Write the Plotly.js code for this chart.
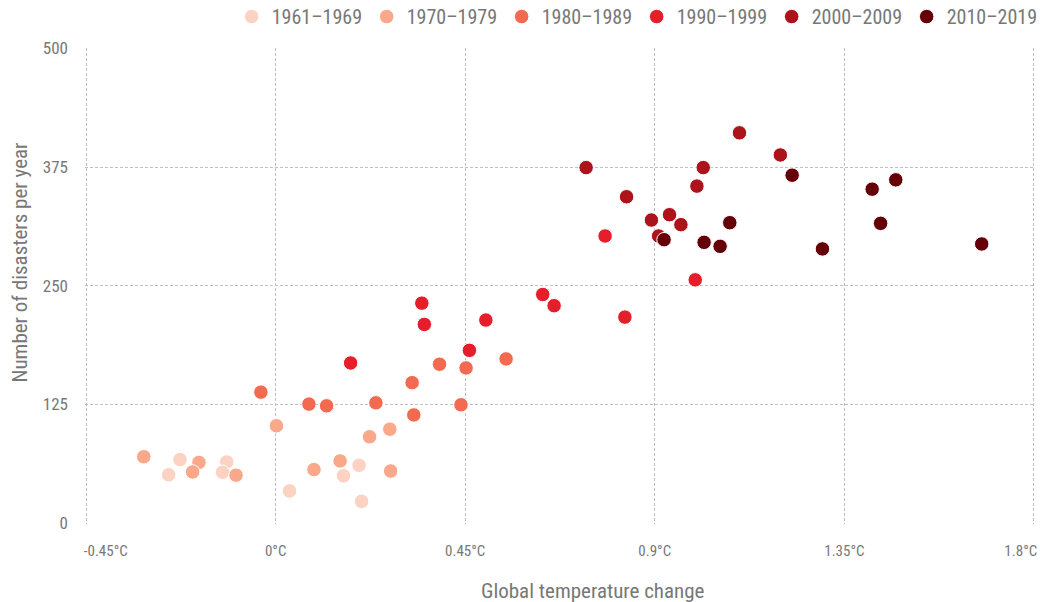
<!DOCTYPE html>
<html>
<head>
<meta charset="utf-8">
<script src="https://cdn.plot.ly/plotly-3.0.1.min.js"></script>
<style>html,body{margin:0;padding:0;background:#fff;}#chart{width:1040px;height:602px;}</style>
</head>
<body>
<div id="chart"></div>
<script>
var decades = ["1961–1969", "1970–1979", "1980–1989", "1990–1999", "2000–2009", "2010–2019"];
var colors = ["#fcd2c2", "#f9a88a", "#f26b50", "#e41e2a", "#ad131a", "#660008"];

var temp1960s = [-0.227, -0.254, -0.116, -0.126, 0.033, 0.198, 0.161, 0.204];
var disasters1960s = [67, 51, 64.5, 53.7, 34, 61, 50, 23];

var temp1970s = [-0.313, -0.182, -0.197, -0.094, 0.002, 0.091, 0.153, 0.223, 0.271, 0.273];
var disasters1970s = [70, 64, 54, 50.6, 102.6, 56.5, 65.6, 91, 99, 55];

var temp1980s = [-0.035, 0.079, 0.121, 0.238, 0.324, 0.328, 0.389, 0.440, 0.452, 0.547];
var disasters1980s = [138, 125.4, 123.6, 126.8, 148, 114, 167.4, 124.7, 163.5, 173];

var temp1990s = [0.178, 0.347, 0.353, 0.460, 0.499, 0.634, 0.661, 0.782, 0.829, 0.996];
var disasters1990s = [168.7, 231.7, 209.3, 182, 213.9, 240.8, 229, 302.4, 217, 256.2];

var temp2000s = [0.737, 0.833, 0.892, 0.935, 0.962, 0.909, 1.015, 1.000, 1.101, 1.198];
var disasters2000s = [374.4, 343.7, 319.2, 324.8, 314.3, 302.4, 374.4, 354.9, 411, 387.7];

var temp2010s = [0.922, 1.017, 1.055, 1.078, 1.226, 1.298, 1.416, 1.472, 1.436, 1.676];
var disasters2010s = [298.5, 295.7, 291.5, 316.4, 366.4, 288.8, 351.7, 361.5, 315.7, 294];

var xTickVals = [-0.45, 0, 0.45, 0.9, 1.35, 1.8];
var xTickText = ["\u2003\u2003\u2003-0.45°C", "0°C", "0.45°C", "0.9°C", "1.35°C", "1.8°C\u2003\u2003"];
var yTickVals = [0, 125, 250, 375, 500];
var xTitle = "Global temperature change";
var yTitle = "Number of disasters per year";

var xs = [temp1960s, temp1970s, temp1980s, temp1990s, temp2000s, temp2010s];
var ys = [disasters1960s, disasters1970s, disasters1980s, disasters1990s, disasters2000s, disasters2010s];

var FONT = "'Roboto Condensed', 'Liberation Sans Narrow', 'DejaVu Sans Condensed', sans-serif";

var traces = decades.map(function (d, i) {
  return {
    type: "scatter",
    mode: "markers",
    name: d,
    x: xs[i],
    y: ys[i],
    marker: { color: colors[i], size: 14.5, line: { color: "#ffffff", width: 1 } }
  };
});

var layout = {
  width: 1040,
  height: 602,
  margin: { l: 85, r: 5, t: 48, b: 78, autoexpand: false },
  paper_bgcolor: "#ffffff",
  plot_bgcolor: "#ffffff",
  font: { family: FONT, color: "#777777", size: 15 },
  showlegend: true,
  legend: {
    orientation: "h",
    x: 1.007, xanchor: "right",
    y: 1.066, yanchor: "middle",
    font: { size: 20, color: "#777777" },
    itemsizing: "trace",
    entrywidth: 90,
    traceorder: "normal"
  },
  xaxis: {
    range: [-0.4525, 1.8025],
    tickvals: xTickVals,
    ticktext: xTickText,
    showgrid: true,
    gridcolor: "#c0c0c0",
    griddash: "3px,2px",
    gridwidth: 1,
    zeroline: false,
    showline: false,
    ticks: "",
    ticklabelstandoff: 16,
    ticklabeloverflow: "allow",
    tickfont: { size: 15, color: "#777777" }
  },
  yaxis: {
    range: [-0.8, 500.3],
    tickvals: yTickVals,
    showgrid: true,
    gridcolor: "#c0c0c0",
    griddash: "3px,2px",
    gridwidth: 1,
    zeroline: false,
    showline: false,
    ticks: "",
    ticklabelstandoff: 16,
    tickfont: { size: 17, color: "#777777" }
  },
  annotations: [
    {
      text: xTitle, xref: "paper", yref: "paper",
      x: 0.535, y: -0.141, xanchor: "center", yanchor: "middle",
      showarrow: false, font: { size: 21, color: "#777777" }
    },
    {
      text: yTitle, xref: "paper", yref: "paper",
      x: -0.068, y: 0.55, xanchor: "center", yanchor: "middle",
      textangle: -90,
      showarrow: false, font: { size: 21, color: "#777777" }
    }
  ]
};

Plotly.newPlot("chart", traces, layout, { displayModeBar: false, responsive: false });
</script>
</body>
</html>
